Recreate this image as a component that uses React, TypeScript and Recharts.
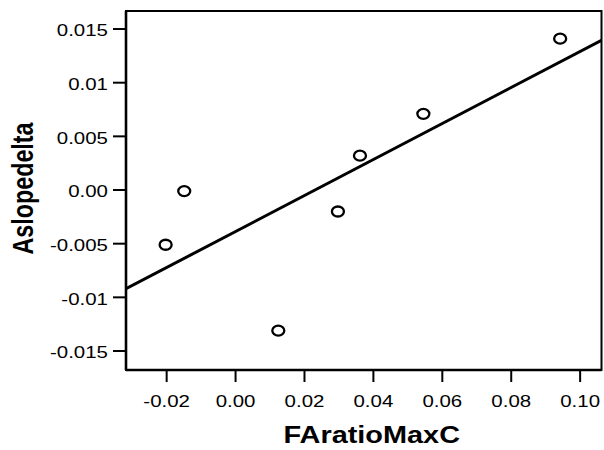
import React from "react";
import {
  ScatterChart,
  Scatter,
  XAxis,
  YAxis,
  ReferenceArea,
} from "recharts";

// Observations: FAratioMaxC (x) vs Aslopedelta (y)
const faRatioMaxC = [-0.0203, -0.0149, 0.0124, 0.0297, 0.0361, 0.0545, 0.0942];
const aslopeDelta = [-0.0051, -0.0001, -0.0131, -0.002, 0.0032, 0.0071, 0.0141];

// Fitted regression line, evaluated at the ends of the x range
const fitX = [-0.0318, 0.1062];
const fitY = [-0.0092, 0.01395];

// Axis ticks and their printed labels
const xTicks = [-0.02, 0.0, 0.02, 0.04, 0.06, 0.08, 0.1];
const xTickLabels = ["-0.02", "0.00", "0.02", "0.04", "0.06", "0.08", "0.10"];
const yTicks = [0.015, 0.01, 0.005, 0.0, -0.005, -0.01, -0.015];
const yTickLabels = ["0.015", "0.01", "0.005", "0.00", "-0.005", "-0.01", "-0.015"];

const xDomain: [number, number] = [-0.0318, 0.1062];
const yDomain: [number, number] = [-0.01677, 0.01668];

const points = faRatioMaxC.map((x, i) => ({ x, y: aslopeDelta[i] }));
const fitLine = fitX.map((x, i) => ({ x, y: fitY[i] }));

const FONT = "'Liberation Sans', Arial, Helvetica, sans-serif";
const STRETCH = 1.24;

const labelFor = (value: number, ticks: number[], labels: string[]) => {
  const i = ticks.findIndex((t) => Math.abs(t - value) < 1e-9);
  return i >= 0 ? labels[i] : String(value);
};

const XTick = (props: any) => {
  const { x, y, payload } = props;
  return (
    <g transform={`translate(${x},${y}) scale(${STRETCH},1)`}>
      <text
        x={0}
        y={24.7}
        textAnchor="middle"
        fontFamily={FONT}
        fontSize={16.5}
        fill="#000"
      >
        {labelFor(payload.value, xTicks, xTickLabels)}
      </text>
    </g>
  );
};

const YTick = (props: any) => {
  const { x, y, payload } = props;
  return (
    <g transform={`translate(${x},${y}) scale(${STRETCH},1)`}>
      <text
        x={0}
        y={7.4}
        textAnchor="end"
        fontFamily={FONT}
        fontSize={16.5}
        fill="#000"
      >
        {labelFor(payload.value, yTicks, yTickLabels)}
      </text>
    </g>
  );
};

const XLabel = (props: any) => {
  const vb = props.viewBox;
  const cx = vb.x + vb.width / 2 + 8;
  return (
    <g transform={`translate(${cx},${443.3}) scale(${STRETCH},1)`}>
      <text
        x={0}
        y={0}
        textAnchor="middle"
        fontFamily={FONT}
        fontWeight="bold"
        fontSize={23.3}
        fill="#000"
      >
        FAratioMaxC
      </text>
    </g>
  );
};

const YLabel = (props: any) => {
  const vb = props.viewBox;
  const cy = vb.y + vb.height / 2 - 2;
  return (
    <g transform={`translate(${33.3},${cy}) scale(${STRETCH},1) rotate(-90)`}>
      <text
        x={0}
        y={0}
        textAnchor="middle"
        fontFamily={FONT}
        fontWeight="bold"
        fontSize={23.3}
        fill="#000"
      >
        Aslopedelta
      </text>
    </g>
  );
};

const OpenMarker = (props: any) => {
  const { cx, cy } = props;
  return (
    <ellipse
      cx={cx}
      cy={cy}
      rx={6}
      ry={5}
      fill="none"
      stroke="#000"
      strokeWidth={2.3}
    />
  );
};

const NoMarker = () => null;

export default function App() {
  return (
    <div
      style={{
        position: "absolute",
        left: 0,
        top: 0,
        width: 604,
        height: 450,
        background: "#fff",
      }}
    >
      <ScatterChart
        width={604}
        height={450}
        margin={{ top: 11, right: 2.5, bottom: 0, left: 0 }}
      >
        <XAxis
          type="number"
          dataKey="x"
          domain={xDomain}
          ticks={xTicks}
          allowDataOverflow
          height={80}
          tickSize={12}
          tickMargin={0}
          tick={<XTick />}
          tickLine={{ stroke: "#000", strokeWidth: 2 }}
          axisLine={{ stroke: "#000", strokeWidth: 2.6 }}
          label={<XLabel />}
        />
        <YAxis
          type="number"
          dataKey="y"
          domain={yDomain}
          ticks={yTicks}
          allowDataOverflow
          width={126}
          tickSize={13}
          tickMargin={5}
          tick={<YTick />}
          tickLine={{ stroke: "#000", strokeWidth: 2 }}
          axisLine={{ stroke: "#000", strokeWidth: 2.6 }}
          label={<YLabel />}
        />
        <ReferenceArea
          x1={xDomain[0]}
          x2={xDomain[1]}
          y1={yDomain[0]}
          y2={yDomain[1]}
          fill="none"
          stroke="#000"
          strokeWidth={2}
          ifOverflow="visible"
        />
        <Scatter
          data={fitLine}
          line={{ stroke: "#000", strokeWidth: 3 }}
          shape={<NoMarker />}
          isAnimationActive={false}
        />
        <Scatter
          data={points}
          shape={<OpenMarker />}
          isAnimationActive={false}
        />
      </ScatterChart>
    </div>
  );
}
